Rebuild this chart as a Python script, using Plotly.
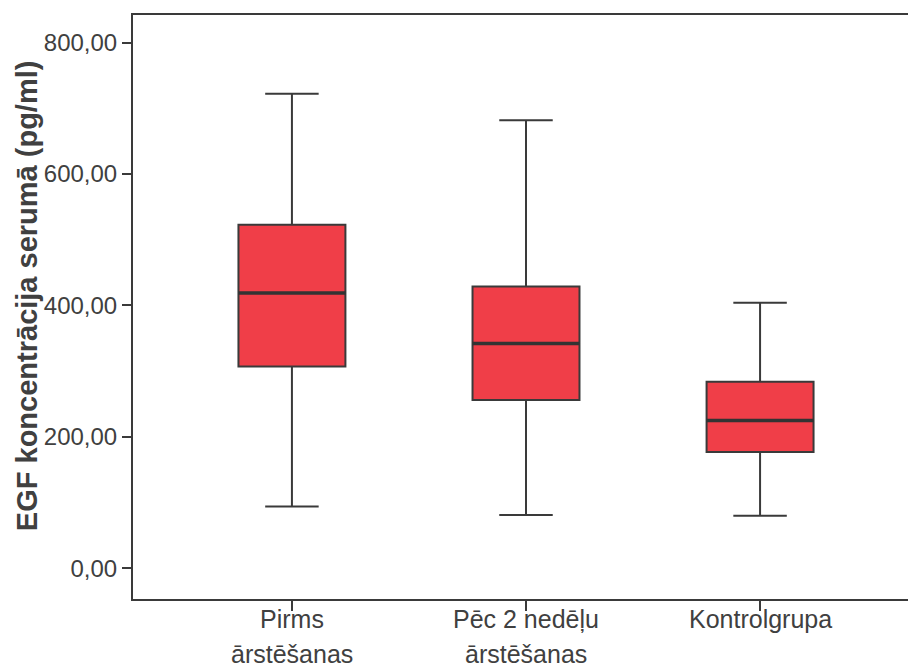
import plotly.graph_objects as go

# Serum EGF concentration (pg/ml) summary per group
categories = ["Pirms ārstēšanas", "Pēc 2 nedēļu ārstēšanas", "Kontrolgrupa"]
label_line1 = ["Pirms", "Pēc 2 nedēļu", "Kontrolgrupa"]
label_line2 = ["ārstēšanas", "ārstēšanas", ""]
lower_whisker = [94, 81, 80]
q1 = [307, 256, 177]
median = [419, 342, 225]
q3 = [523, 429, 284]
upper_whisker = [722, 682, 404]
y_ticks = [0, 200, 400, 600, 800]

FONT = "Liberation Sans, Arial, sans-serif"
TEXT = "#404040"
LINE = "#3a3a3a"
FILL = "#f03e48"
BOX_WIDTH = 0.457
LABEL_SIZE = 25

x_pos = list(range(len(categories)))

fig = go.Figure()
fig.add_trace(go.Box(
    x=x_pos,
    q1=q1, median=median, q3=q3,
    lowerfence=lower_whisker, upperfence=upper_whisker,
    width=BOX_WIDTH,
    whiskerwidth=0.5,
    fillcolor=FILL,
    line=dict(color=LINE, width=2),
    boxpoints=False,
    hoverinfo="skip",
    showlegend=False,
))

# heavier median bars across each box
for xi, m in zip(x_pos, median):
    fig.add_trace(go.Scatter(
        x=[xi - BOX_WIDTH / 2, xi + BOX_WIDTH / 2], y=[m, m],
        mode="lines", line=dict(color="#333333", width=3.5),
        hoverinfo="skip", showlegend=False,
    ))

annotations = []
for xi, l1, l2 in zip(x_pos, label_line1, label_line2):
    annotations.append(dict(
        x=xi, xref="x", y=0, yref="paper",
        text=l1, showarrow=False, xanchor="center", yanchor="top",
        yshift=-5, borderpad=0,
        font=dict(family=FONT, size=LABEL_SIZE, color=TEXT),
    ))
    if l2:
        annotations.append(dict(
            x=xi, xref="x", y=0, yref="paper",
            text=l2, showarrow=False, xanchor="center", yanchor="bottom",
            yshift=-70, borderpad=0,
            font=dict(family=FONT, size=LABEL_SIZE, color=TEXT),
        ))

annotations.append(dict(
    x=-0.137, xref="paper", y=0.52, yref="paper",
    text="<b>EGF koncentrācija serumā (pg/ml)</b>",
    textangle=-90, showarrow=False, xanchor="center", yanchor="middle",
    font=dict(family=FONT, size=29, color=TEXT),
))

fig.update_layout(
    width=908, height=670,
    margin=dict(l=133, r=0, t=15, b=71),
    paper_bgcolor="white",
    plot_bgcolor="white",
    separators=",.",
    annotations=annotations,
    xaxis=dict(
        range=[-0.679, 2.632],
        tickvals=x_pos,
        ticktext=["", "", ""],
        ticks="outside", ticklen=10, tickwidth=2, tickcolor=LINE,
        showline=True, linecolor=LINE, linewidth=2, mirror=True,
        showgrid=False, zeroline=False,
    ),
    yaxis=dict(
        range=[-46.7, 842],
        tickvals=y_ticks,
        tickformat=".2f",
        ticks="outside", ticklen=9, tickwidth=2, tickcolor=LINE,
        tickfont=dict(family=FONT, size=24, color=TEXT),
        showline=True, linecolor=LINE, linewidth=2,
        showgrid=False, zeroline=False,
    ),
)

fig.write_html("out.html")
